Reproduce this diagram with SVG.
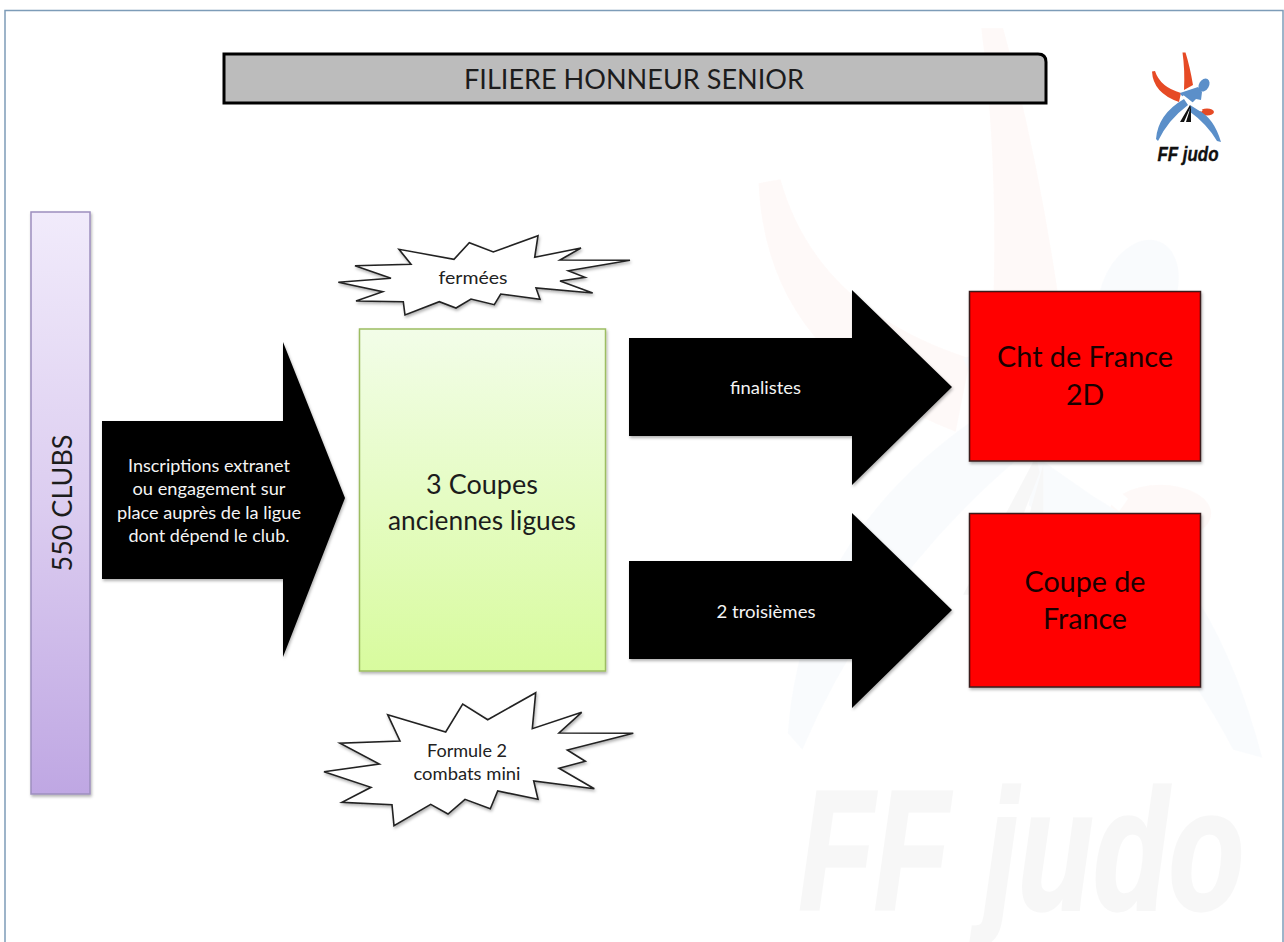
<svg xmlns="http://www.w3.org/2000/svg" xmlns:xlink="http://www.w3.org/1999/xlink" width="1284" height="942" viewBox="0 0 1284 942">
<style>
text{font-family:"Lato","Carlito","Open Sans",sans-serif;text-anchor:middle}
.big{font-size:27px;fill:#1c1c1c}
.red{font-size:28.500px;fill:#1a0000}
.wh{font-size:18px;fill:#f4f4f4}
.bl{font-size:18px;fill:#222}
.arrow{fill:#000;filter:url(#sh)}
.star{fill:#fff;stroke:#222;stroke-width:1.600;filter:url(#sh)}
.rbox{fill:#f00;stroke:#3a1a1a;stroke-width:1.500;filter:url(#sh)}
</style>
<defs>
<linearGradient id="pur" x1="0" y1="0" x2="0" y2="1"><stop offset="0" stop-color="#f1ebfb"/><stop offset="0.5" stop-color="#dccdf0"/><stop offset="1" stop-color="#bfa7e3"/></linearGradient>
<linearGradient id="grn" x1="0" y1="0" x2="0" y2="1"><stop offset="0" stop-color="#f2fde8"/><stop offset="1" stop-color="#d8fb9e"/></linearGradient>
<filter id="sh" x="-10%" y="-10%" width="120%" height="120%"><feDropShadow dx="1" dy="2" stdDeviation="1.500" flood-color="#000" flood-opacity="0.3"/></filter>
<g id="logo">
<path fill="#e64a25" d="M1182.500 52.500L1185.500 52.500Q1190 67 1193 85L1184 90Q1185 70 1182.500 52.500Z"/>
<path fill="#e64a25" d="M1152 71.500L1155 71Q1160 87 1181 93L1179 102Q1153 93 1152 71.500Z"/>
<ellipse cx="1207" cy="112" rx="7" ry="3.500" fill="#e64a25"/>
<ellipse cx="1204" cy="85" rx="5" ry="7" transform="rotate(30 1204 85)" fill="#5b8fc9"/>
<path fill="#5b8fc9" d="M1180 93L1198 87L1202 92L1201 100L1196 99L1192 103L1181 95Z"/>
<path fill="#5b8fc9" d="M1156 139Q1158 114 1184 99L1188 105Q1168 120 1158 141Z"/>
<path fill="#5b8fc9" d="M1190 105L1198 110Q1214 118 1221 142L1217 141Q1207 124 1189 111Z"/>
<path fill="none" stroke="#fff" stroke-width="2" d="M1183 96L1202 111"/>
<path fill="#111" d="M1180 122L1190 105L1190.500 107L1184 122Z M1186 122L1191 106L1191 122Z"/>
<text x="1188" y="160.500" textLength="61" lengthAdjust="spacingAndGlyphs" style="font-family:'Liberation Sans',sans-serif;font-size:21px;font-weight:bold;font-style:italic;fill:#111;stroke:#111;stroke-width:0.400">FF judo</text>
</g>
</defs>
<rect width="1284" height="942" fill="#fff"/>
<g id="watermark" opacity="0.028"><use href="#logo" xlink:href="#logo" transform="translate(-7651 -399.500) scale(7.300 8.150)"/></g>
<rect id="frame" x="5" y="10.500" width="1278" height="1000" fill="none" stroke="#7d9cb8" stroke-width="1.500"/>
<g id="title"><path d="M224 54H1038Q1046 54 1046 62V103H224Z" fill="#bcbcbc" stroke="#000" stroke-width="3"/><text class="big" x="634" y="89" textLength="340" lengthAdjust="spacingAndGlyphs">FILIERE HONNEUR SENIOR</text></g>
<g id="ff-logo"><use href="#logo" xlink:href="#logo"/></g>
<g id="clubs"><rect x="31" y="212" width="59" height="582" fill="url(#pur)" stroke="#9d8fbe" stroke-width="1.500" filter="url(#sh)"/><text class="big" transform="translate(72 503) rotate(-90)" textLength="137" lengthAdjust="spacingAndGlyphs">550 CLUBS</text></g>
<g id="coupes"><rect x="359.500" y="329" width="246" height="342" fill="url(#grn)" stroke="#9dbd62" stroke-width="1.500" filter="url(#sh)"/><text class="big" x="482" y="494">3 Coupes</text><text class="big" x="482" y="530" textLength="188" lengthAdjust="spacingAndGlyphs">anciennes ligues</text></g>
<g id="fermees"><polygon class="star" points="338.300,282.300 391,278.300 355,265.700 411,264.300 399,249.300 454,259.300 469.300,242.700 493.300,252 538,235.700 534.700,257.300 581,248 560,260 630,260.300 568.300,270.700 585,277.300 560,281 592.700,293 536,288 540,299.300 500.700,294 494.300,304.700 471,299 456,308 439.300,301.700 405,315 403.300,301.700 356,301 382.700,291.700"/><text class="bl" x="473" y="284" textLength="69" lengthAdjust="spacingAndGlyphs">fermées</text></g>
<g id="formule"><polygon class="star" points="324,771.700 379.300,764 340,743.300 400,741 387.700,714.700 445.700,732 462.700,704 487.700,719.700 535.700,692.700 532.300,728.700 581.700,712.300 559,733 633.300,733.300 567.300,750 585.300,761.300 559,768.300 594.300,788.700 533.700,781 538,799.300 497.700,791 490.300,808.700 465,799.300 448,814 430.700,804.300 394,825.700 392,804.700 342,802.300 371,787.300"/><text class="bl" x="467" y="757" textLength="80" lengthAdjust="spacingAndGlyphs">Formule 2</text><text class="bl" x="467" y="780" textLength="107" lengthAdjust="spacingAndGlyphs">combats mini</text></g>
<g id="cht"><rect class="rbox" x="969.500" y="291.500" width="231" height="169.500"/><text class="red" x="1085" y="367" textLength="176" lengthAdjust="spacingAndGlyphs">Cht de France</text><text class="red" x="1085" y="405">2D</text></g>
<g id="coupe-france"><rect class="rbox" x="969.500" y="513.500" width="231" height="173.500"/><text class="red" x="1085" y="592" textLength="121" lengthAdjust="spacingAndGlyphs">Coupe de</text><text class="red" x="1085" y="629" textLength="84" lengthAdjust="spacingAndGlyphs">France</text></g>
<g id="connectors">
<polygon class="arrow" points="102,421 283,421 283,342 345,498 283,657 283,579 102,579"/>
<polygon class="arrow" points="629,338 852,338 852,290 952,387 852,485 852,436 629,436"/>
<polygon class="arrow" points="629,561 852,561 852,513 952,610 852,708 852,659 629,659"/>
<text class="wh" x="209" y="472" textLength="162" lengthAdjust="spacingAndGlyphs">Inscriptions extranet</text><text class="wh" x="209" y="495" textLength="153" lengthAdjust="spacingAndGlyphs">ou engagement sur</text><text class="wh" x="209" y="519" textLength="184" lengthAdjust="spacingAndGlyphs">place auprès de la ligue</text><text class="wh" x="209" y="542" textLength="161" lengthAdjust="spacingAndGlyphs">dont dépend le club.</text>
<text class="wh" x="765.500" y="394" textLength="71" lengthAdjust="spacingAndGlyphs">finalistes</text>
<text class="wh" x="766" y="618" textLength="99" lengthAdjust="spacingAndGlyphs">2 troisièmes</text>
</g>
</svg>
